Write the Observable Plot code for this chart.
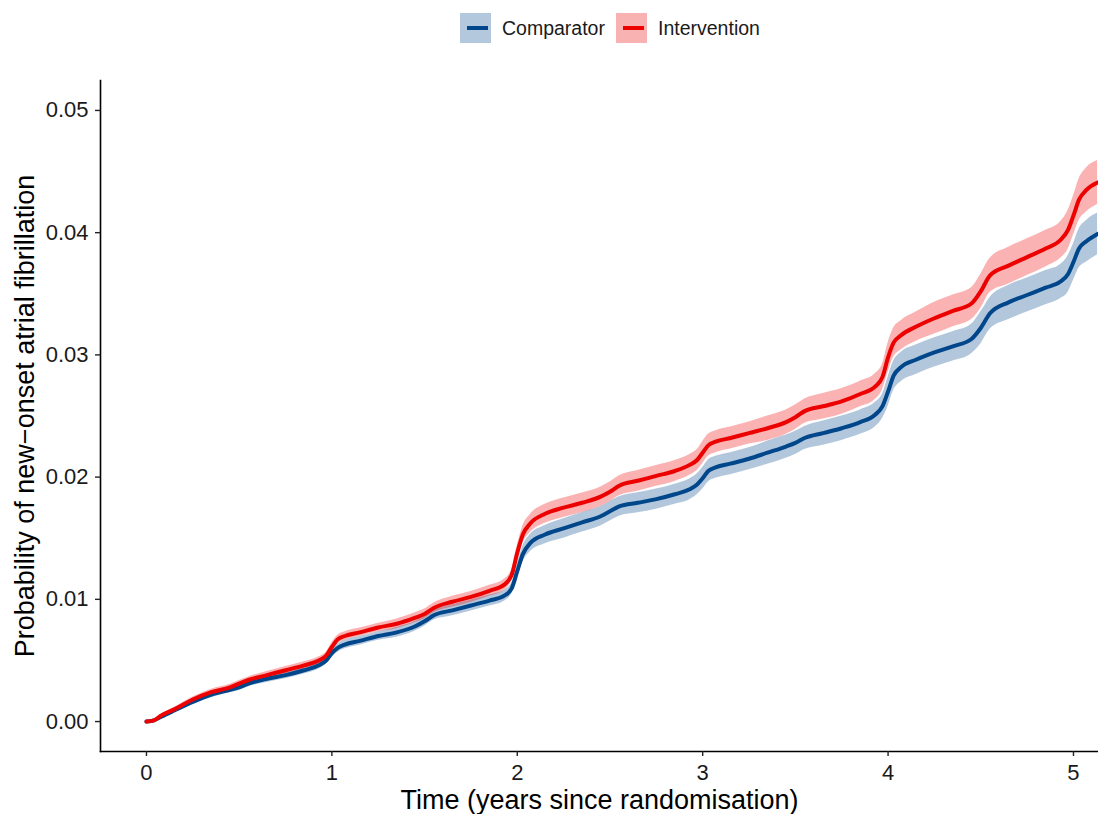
<!DOCTYPE html>
<html>
<head>
<meta charset="utf-8">
<script src="https://cdn.jsdelivr.net/npm/d3@7"></script>
<script src="https://cdn.jsdelivr.net/npm/@observablehq/plot@0.6"></script>
<style>
  html, body { margin: 0; padding: 0; background: #fff; }
  body { width: 1098px; height: 814px; position: relative; overflow: hidden; font-family: "Liberation Sans", Arial, Helvetica, sans-serif; }
  #legend { position: absolute; left: 0; top: 0; width: 1098px; height: 60px; }
  .key { position: absolute; top: 13px; width: 31px; height: 30px; }
  .key span { position: absolute; left: 7px; right: 3px; top: 13px; height: 4px; }
  .lab { position: absolute; top: 16px; font-size: 19.5px; line-height: 24px; color: #1a1a1a; white-space: nowrap; }
  #chart { position: absolute; left: 0; top: 60px; }
</style>
</head>
<body>
<div id="legend"></div>
<div id="chart"></div>
<script>
// ---- data ----
const groups = ["Comparator", "Intervention"];
const colors = ["#00468B", "#ED0000"];

const time = [0.00, 0.04, 0.08, 0.15, 0.25, 0.35, 0.45, 0.50, 0.55, 0.65, 0.75, 0.85, 0.93, 0.97,
  1.00, 1.03, 1.07, 1.15, 1.25, 1.35, 1.45, 1.50, 1.55, 1.65, 1.75, 1.85, 1.93, 1.97,
  2.00, 2.03, 2.07, 2.15, 2.25, 2.35, 2.45, 2.50, 2.55, 2.65, 2.75, 2.85, 2.93, 2.97,
  3.00, 3.03, 3.07, 3.15, 3.25, 3.35, 3.45, 3.50, 3.55, 3.65, 3.75, 3.85, 3.93, 3.97,
  4.00, 4.03, 4.07, 4.15, 4.25, 4.35, 4.45, 4.50, 4.55, 4.65, 4.75, 4.85, 4.93, 4.97,
  5.00, 5.03, 5.07, 5.13];

const interventionEst = [0, 0.0001, 0.0005, 0.0010, 0.0018, 0.0024, 0.0028, 0.0031, 0.0034, 0.0038, 0.0042, 0.0046, 0.0050, 0.0054,
  0.0061, 0.0067, 0.0070, 0.0073, 0.0077, 0.0080, 0.0085, 0.0088, 0.0093, 0.0098, 0.0102, 0.0107, 0.0112, 0.0120,
  0.0138, 0.0153, 0.0162, 0.0170, 0.0175, 0.0179, 0.0184, 0.0188, 0.0193, 0.0197, 0.0201, 0.0205, 0.0210, 0.0214,
  0.0220, 0.0226, 0.0229, 0.0232, 0.0236, 0.0240, 0.0245, 0.0249, 0.0254, 0.0258, 0.0262, 0.0268, 0.0274, 0.0282,
  0.0298, 0.0310, 0.0316, 0.0323, 0.0330, 0.0336, 0.0342, 0.0352, 0.0365, 0.0373, 0.0380, 0.0387, 0.0394, 0.0402,
  0.0414, 0.0427, 0.0435, 0.0441];

const comparatorEst = [0, 0.0001, 0.0004, 0.0009, 0.0016, 0.0022, 0.0026, 0.0028, 0.0031, 0.0035, 0.0038, 0.0042, 0.0046, 0.0050,
  0.0056, 0.0060, 0.0063, 0.0066, 0.0070, 0.0073, 0.0078, 0.0082, 0.0087, 0.0091, 0.0095, 0.0099, 0.0103, 0.0109,
  0.0123, 0.0137, 0.0146, 0.0153, 0.0158, 0.0163, 0.0168, 0.0172, 0.0176, 0.0179, 0.0182, 0.0186, 0.0190, 0.0194,
  0.0199, 0.0205, 0.0208, 0.0211, 0.0215, 0.0220, 0.0225, 0.0228, 0.0232, 0.0236, 0.0240, 0.0245, 0.0251, 0.0258,
  0.0270, 0.0283, 0.0290, 0.0296, 0.0302, 0.0307, 0.0313, 0.0322, 0.0334, 0.0343, 0.0349, 0.0355, 0.0360, 0.0366,
  0.0376, 0.0387, 0.0393, 0.0399];

// half-width of the 95% band read from the ribbons
const interventionHalf = [0, 0.00005, 0.0001, 0.00015, 0.0002, 0.00025, 0.00025, 0.00025, 0.00025, 0.0003, 0.0003, 0.0003, 0.0003, 0.0003,
  0.00035, 0.00035, 0.00035, 0.00035, 0.00035, 0.0004, 0.0004, 0.0004, 0.0004, 0.00045, 0.00045, 0.00045, 0.00045, 0.00045,
  0.0006, 0.0007, 0.00075, 0.00078, 0.0008, 0.0008, 0.0008, 0.0008, 0.00082, 0.00085, 0.00085, 0.00085, 0.00085, 0.00085,
  0.0009, 0.0009, 0.0009, 0.0009, 0.0009, 0.001, 0.001, 0.001, 0.001, 0.00105, 0.00105, 0.00105, 0.00105, 0.00105,
  0.0012, 0.0012, 0.0012, 0.0012, 0.0013, 0.0013, 0.0013, 0.0014, 0.0014, 0.0015, 0.0015, 0.0015, 0.0015, 0.0016,
  0.0016, 0.0017, 0.0018, 0.0018];

const comparatorHalf = [0, 0.00005, 0.0001, 0.00015, 0.0002, 0.00025, 0.00025, 0.00025, 0.00025, 0.0003, 0.0003, 0.0003, 0.0003, 0.0003,
  0.00035, 0.00035, 0.00035, 0.00035, 0.00035, 0.0004, 0.0004, 0.0004, 0.0004, 0.00045, 0.00045, 0.00045, 0.00045, 0.00045,
  0.00055, 0.00065, 0.0007, 0.00075, 0.0008, 0.0008, 0.0008, 0.0008, 0.0008, 0.00082, 0.00082, 0.00082, 0.00085, 0.00085,
  0.00088, 0.0009, 0.0009, 0.0009, 0.0009, 0.00095, 0.00095, 0.00095, 0.00095, 0.001, 0.001, 0.001, 0.001, 0.001,
  0.0012, 0.0012, 0.0012, 0.0012, 0.0012, 0.0012, 0.0012, 0.0013, 0.0013, 0.0014, 0.0014, 0.0014, 0.0014, 0.0015,
  0.0015, 0.0016, 0.0017, 0.0017];

const xTicks = [0, 1, 2, 3, 4, 5];
const yTicks = [0, 0.01, 0.02, 0.03, 0.04, 0.05];
const xTitle = "Time (years since randomisation)";
const yTitle = "Probability of new\u2212onset atrial fibrillation";

// ---- build table ----
const rows = [];
const series = [[groups[0], comparatorEst, comparatorHalf], [groups[1], interventionEst, interventionHalf]];
for (const [g, est, half] of series) {
  time.forEach((t, i) => rows.push({t, group: g, est: est[i], lo: est[i] - half[i], hi: est[i] + half[i]}));
}

// ---- legend ----
const legend = document.getElementById("legend");
const keyLeft = [460, 616], labLeft = [502, 658];
const fills = ["#b3c8dc", "#f9b2b2"];
groups.forEach((g, i) => {
  const k = document.createElement("div");
  k.className = "key";
  k.style.left = keyLeft[i] + "px";
  k.style.background = fills[i];
  const s = document.createElement("span");
  s.style.background = colors[i];
  k.appendChild(s);
  legend.appendChild(k);
  const l = document.createElement("div");
  l.className = "lab";
  l.style.left = labLeft[i] + "px";
  l.textContent = g;
  legend.appendChild(l);
});

// ---- chart ----
const chart = Plot.plot({
  width: 1098,
  height: 754,
  marginLeft: 100,
  marginRight: 0,
  marginTop: 20,
  marginBottom: 63,
  style: {fontFamily: "'Liberation Sans', Arial, Helvetica, sans-serif", fontSize: "22px", color: "#1a1a1a", background: "#fff"},
  x: {domain: [-0.248, 5.135]},
  y: {domain: [-0.00245, 0.05245]},
  color: {domain: groups, range: colors},
  marks: [
    Plot.areaY(rows, {x: "t", y1: "lo", y2: "hi", fill: "group", fillOpacity: 0.3, curve: "monotone-x"}),
    Plot.lineY(rows, {x: "t", y: "est", stroke: "group", strokeWidth: 4, curve: "monotone-x"}),
    Plot.frame({anchor: "left", stroke: "#000", strokeWidth: 1.6}),
    Plot.frame({anchor: "bottom", stroke: "#000", strokeWidth: 1.6}),
    Plot.axisX({ticks: xTicks, tickFormat: d3.format("d"), tickSize: 5, tickPadding: 8, label: null, stroke: "#222", strokeWidth: 1.4, fontSize: 22}),
    Plot.axisY({ticks: yTicks, tickFormat: d3.format(".2f"), tickSize: 5, tickPadding: 7, label: null, stroke: "#222", strokeWidth: 1.4, fontSize: 22}),
    Plot.text([xTitle], {frameAnchor: "bottom", dy: 49, textAnchor: "middle", lineAnchor: "middle", fontSize: 27, fill: "#000"}),
    Plot.text([yTitle], {frameAnchor: "left", dx: -75, rotate: -90, textAnchor: "middle", lineAnchor: "middle", fontSize: 27, fill: "#000"})
  ]
});
document.getElementById("chart").appendChild(chart);
</script>
</body>
</html>
